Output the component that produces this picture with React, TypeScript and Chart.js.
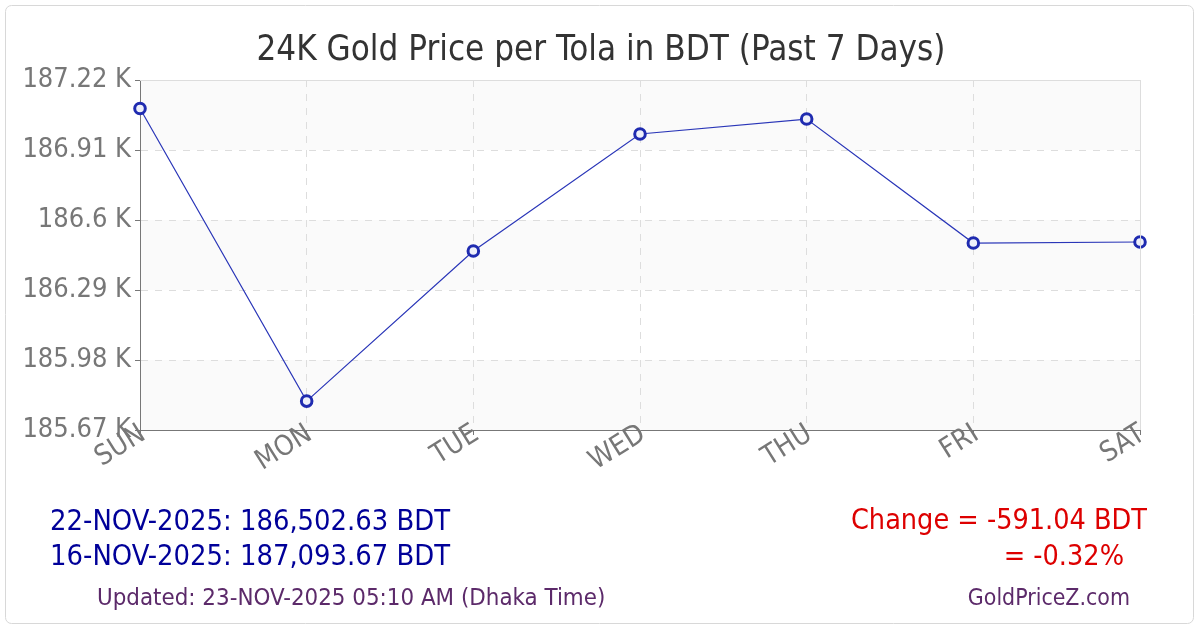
import React, { useEffect, useRef } from "react";
import { Chart, registerables } from "chart.js";

Chart.register(...registerables);

const days = ["SUN", "MON", "TUE", "WED", "THU", "FRI", "SAT"];
const prices = [187093.67, 185798, 186463, 186981, 187047, 186498, 186502.63];
const yTicks = [185670, 185980, 186290, 186600, 186910, 187220];

const titleText = "24K Gold Price per Tola in BDT (Past 7 Days)";
const latestLine = "22-NOV-2025: 186,502.63 BDT";
const firstLine = "16-NOV-2025: 187,093.67 BDT";
const changeLine = "Change = -591.04 BDT";
const pctLine = "= -0.32%";
const updatedLine = "Updated: 23-NOV-2025 05:10 AM (Dhaka Time)";
const siteLine = "GoldPriceZ.com";

const FONT = "'DejaVu Sans Condensed', 'DejaVu Sans', sans-serif";

const decorPlugin = {
  id: "decor",
  beforeDraw(chart: any) {
    const { ctx, chartArea } = chart;
    const y = chart.scales.y;
    ctx.save();
    ctx.fillStyle = "#ffffff";
    ctx.fillRect(0, 0, chart.width, chart.height);
    ctx.strokeStyle = "#d8d8d8";
    ctx.lineWidth = 1;
    ctx.beginPath();
    (ctx as any).roundRect(5.5, 5.5, 1188, 618, 6);
    ctx.stroke();
    ctx.fillStyle = "#fafafa";
    for (let i = 0; i < yTicks.length - 1; i++) {
      if ((yTicks.length - 2 - i) % 2 === 0) {
        const yTop = y.getPixelForValue(yTicks[i + 1]);
        const yBot = y.getPixelForValue(yTicks[i]);
        ctx.fillRect(chartArea.left, yTop, chartArea.right - chartArea.left, yBot - yTop);
      }
    }
    ctx.restore();
  },
  afterDraw(chart: any) {
    const { ctx, chartArea } = chart;
    const x = chart.scales.x;
    ctx.save();
    ctx.strokeStyle = "#dddddd";
    ctx.lineWidth = 1;
    ctx.beginPath();
    ctx.moveTo(chartArea.left, chartArea.top + 0.5);
    ctx.lineTo(chartArea.right + 0.5, chartArea.top + 0.5);
    ctx.lineTo(chartArea.right + 0.5, chartArea.bottom);
    ctx.stroke();

    // rotated x labels, overlapping the axis as in the original
    ctx.save();
    ctx.beginPath();
    ctx.rect(0, chartArea.bottom - 20, chartArea.right + 1, 80);
    ctx.clip();
    ctx.fillStyle = "#777777";
    ctx.font = `28px ${FONT}`;
    ctx.textAlign = "right";
    ctx.textBaseline = "middle";
    days.forEach((d, i) => {
      const px = x.getPixelForValue(i);
      ctx.save();
      ctx.translate(px + 3, chartArea.bottom + 2);
      ctx.rotate((-32 * Math.PI) / 180);
      ctx.fillText(d, 0, 0);
      ctx.restore();
    });
    ctx.restore();

    ctx.textBaseline = "alphabetic";
    ctx.fillStyle = "#333333";
    ctx.font = `34.7px ${FONT}`;
    ctx.textAlign = "center";
    ctx.fillText(titleText, 601, 60);

    ctx.font = `28.8px ${FONT}`;
    ctx.textAlign = "right";
    ctx.fillStyle = "#000099";
    ctx.fillText(latestLine, 450, 530);
    ctx.fillText(firstLine, 450, 565);

    ctx.font = `28.5px ${FONT}`;
    ctx.fillStyle = "#dd0000";
    ctx.fillText(changeLine, 1147, 529);
    ctx.fillText(pctLine, 1124, 565);

    ctx.fillStyle = "#5c2a6a";
    ctx.font = `23.85px ${FONT}`;
    ctx.textAlign = "left";
    ctx.fillText(updatedLine, 97, 605);
    ctx.font = `22.9px ${FONT}`;
    ctx.textAlign = "right";
    ctx.fillText(siteLine, 1130, 605);
    ctx.restore();
  },
};

export default function App() {
  const ref = useRef<HTMLCanvasElement>(null);
  useEffect(() => {
    document.body.style.margin = "0";
    const chart = new Chart(ref.current!, {
      type: "line",
      data: {
        labels: days,
        datasets: [
          {
            data: prices,
            borderColor: "#2a36b8",
            borderWidth: 1.2,
            pointRadius: 5.3,
            pointBorderWidth: 3,
            pointBorderColor: "#1f2bb0",
            pointBackgroundColor: "#eef0fa",
            tension: 0,
            fill: false,
          },
        ],
      },
      options: {
        animation: false,
        responsive: false,
        devicePixelRatio: 1,
        layout: { padding: { left: 0, right: 60, top: 80, bottom: 0 } },
        plugins: { legend: { display: false }, title: { display: false }, tooltip: { enabled: false } },
        scales: {
          x: {
            offset: false,
            grid: {
              color: "#dddddd",
              tickColor: "#777777",
              tickLength: 5,
              drawTicks: true,
            },
            border: { color: "#777777", dash: [7, 7], display: true },
            ticks: { display: false },
            afterFit(scale: any) {
              scale.height = 200;
            },
          },
          y: {
            min: yTicks[0],
            max: yTicks[yTicks.length - 1],
            grid: {
              color: "#dddddd",
              tickColor: "#777777",
              tickLength: 5,
            },
            border: { color: "#777777", dash: [7, 7] },
            ticks: {
              color: "#777777",
              font: { family: FONT, size: 27 },
              padding: 4,
              callback: (v: any) => `${Math.round(Number(v) / 10) / 100} K`,
            },
            afterBuildTicks(scale: any) {
              scale.ticks = yTicks.map((v) => ({ value: v }));
            },
            afterFit(scale: any) {
              scale.width = 140;
            },
          },
        },
      } as any,
      plugins: [decorPlugin],
    });
    return () => chart.destroy();
  }, []);
  return (
    <div style={{ position: "fixed", left: 0, top: 0, width: 1200, height: 630 }}>
      <canvas ref={ref} width={1200} height={630} style={{ width: 1200, height: 630 }} />
    </div>
  );
}
